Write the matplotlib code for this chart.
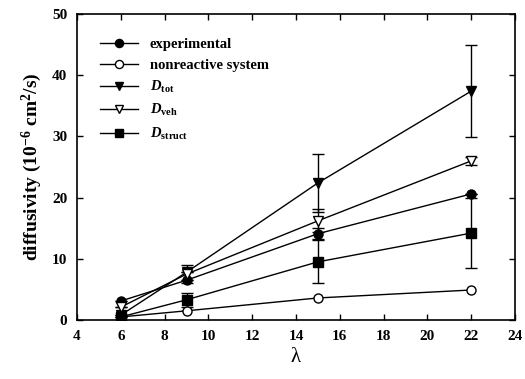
import matplotlib
matplotlib.use("Agg")
import matplotlib.pyplot as plt

plt.rcParams['font.family'] = ['Liberation Serif', 'DejaVu Serif']
plt.rcParams['mathtext.fontset'] = 'custom'
plt.rcParams['mathtext.rm'] = 'Liberation Serif:bold'
plt.rcParams['mathtext.it'] = 'Liberation Serif:italic:bold'
plt.rcParams['mathtext.bf'] = 'Liberation Serif:bold'

lam = [6, 9, 15, 22]
experimental = [3.1, 6.5, 14.1, 20.6]
experimental_err = [0, 0, 0.9, 0]
nonreactive = [0.5, 1.5, 3.6, 4.9]
D_tot = [0.8, 7.8, 22.4, 37.4]
D_tot_err = [0, 0, 4.7, 7.5]
D_veh = [2.1, 7.5, 16.2, 26.0]
D_veh_err = [0, 1.5, 1.9, 0.6]
D_struct = [0.5, 3.3, 9.5, 14.2]
D_struct_err = [0, 1.1, 3.5, 5.7]

fig = plt.figure(figsize=(5.25, 3.79), dpi=100)
ax = fig.add_axes([0.1467, 0.1557, 0.8343, 0.8073])

series = [
    (experimental, experimental_err, 'o', 'black', 'experimental'),
    (nonreactive, None, 'o', 'white', 'nonreactive system'),
    (D_tot, D_tot_err, 'v', 'black', r'$\mathit{D}_{\mathrm{tot}}$'),
    (D_veh, D_veh_err, 'v', 'white', r'$\mathit{D}_{\mathrm{veh}}$'),
    (D_struct, D_struct_err, 's', 'black', r'$\mathit{D}_{\mathrm{struct}}$'),
]
for vals, err, mk, fc, lab in series:
    if err is not None:
        ax.errorbar(lam, vals, yerr=err, fmt='none', ecolor='black', elinewidth=1.0,
                    capsize=4, capthick=1.0, zorder=2)
    ax.plot(lam, vals, color='black', lw=1.0, marker=mk, mfc=fc, mec='black',
            markersize=6.5, label=lab, zorder=3)

ax.set_xlim(4, 24)
ax.set_ylim(0, 50)
ax.set_xticks(range(4, 25, 2))
ax.set_yticks(range(0, 51, 10))
ax.tick_params(direction='in', top=True, right=True, length=4, width=1, labelsize=11, pad=7)
for lbl in ax.get_xticklabels() + ax.get_yticklabels():
    lbl.set_fontweight('bold')
for s in ax.spines.values():
    s.set_linewidth(1.2)

ax.set_xlabel('λ', fontsize=15, labelpad=4)
ax.set_ylabel(r'diffusivity (10$^{-6}$ cm$^{2}$/s)', fontsize=14, fontweight='bold', labelpad=6)

leg = ax.legend(loc='upper left', bbox_to_anchor=(0.03, 0.955), frameon=False, fontsize=10.5,
                handlelength=2.6, labelspacing=0.5, borderaxespad=0.3, markerscale=0.9)
for t in leg.get_texts():
    t.set_fontweight('bold')

fig.savefig('out.png', dpi=100)
